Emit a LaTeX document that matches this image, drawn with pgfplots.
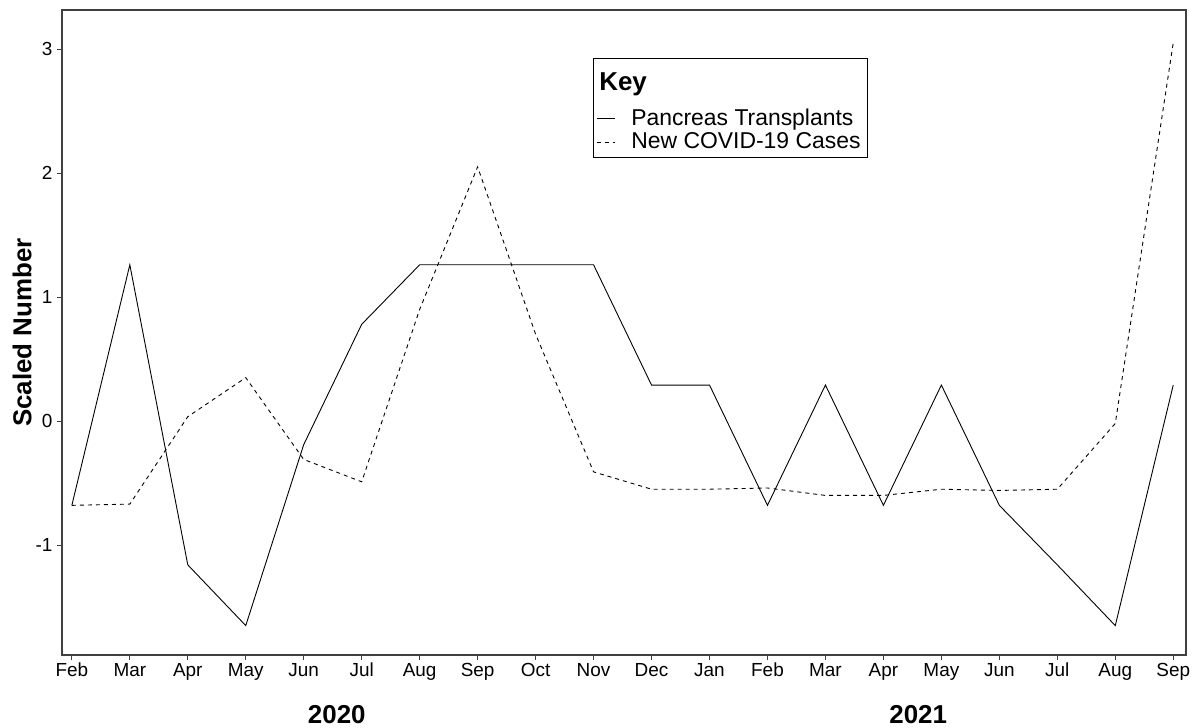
\documentclass[border=0pt]{standalone}
\usepackage{fontspec}
\setmainfont{Liberation Sans}
\usepackage{pgfplots}
\pgfplotsset{compat=1.18}
\begin{document}
\begin{tikzpicture}
\useasboundingbox (0bp,0bp) rectangle (1192bp,728bp);
\begin{axis}[
  at={(62bp,73bp)}, anchor=south west,
  scale only axis, width=1124bp, height=645bp,
  xmin=-0.17, xmax=19.22, ymin=-1.887, ymax=3.315,
  clip=false,
  xtick={0,...,19},
  xticklabels={Feb,Mar,Apr,May,Jun,Jul,Aug,Sep,Oct,Nov,Dec,Jan,Feb,Mar,Apr,May,Jun,Jul,Aug,Sep},
  ytick={-1,0,1,2,3},
  tick align=outside, xtick pos=bottom, ytick pos=left,
  major tick length=5bp,
  tick style={black!75, line width=0.9bp},
  axis line style={black!75, line width=1.1bp},
  /pgf/number format/assume math mode=true,
  ticklabel style={font=\fontsize{19}{21}\selectfont},
  xticklabel style={text height=14bp, text depth=4bp, anchor=north, yshift=1bp},
  yticklabel style={xshift=-1bp},
  ylabel={Scaled Number},
  every axis y label/.style={at={(rel axis cs:0,0.5)}, xshift=-40bp, rotate=90, anchor=center, font=\fontsize{26}{28}\selectfont\bfseries},
  legend style={at={(rel axis cs:0.4724,0.9256)}, anchor=north west, draw=black, line width=1bp,
    font=\fontsize{23}{23}\selectfont, inner xsep=3bp, inner ysep=2bp, cells={anchor=west, inner ysep=0bp},
    row sep=0bp, column sep=14bp},
  legend image code/.code={\draw[#1, line width=0.9bp] (0bp,0bp) -- (18bp,0bp);},
]
\addlegendimage{empty legend}
\addlegendentry[text height=28.5bp, text depth=13.5bp]{\hspace*{-32bp}\fontsize{26}{30}\selectfont\bfseries Key}
\addplot[black, line width=0.9bp] coordinates {
(0,-0.68) (1,1.26) (2,-1.16) (3,-1.65) (4,-0.19) (5,0.78) (6,1.26) (7,1.26) (8,1.26) (9,1.26)
(10,0.29) (11,0.29) (12,-0.68) (13,0.29) (14,-0.68) (15,0.29) (16,-0.68) (17,-1.16) (18,-1.65) (19,0.29)};
\addlegendentry[text height=17.5bp, text depth=1.5bp]{Pancreas Transplants\hspace*{9bp}}
\addplot[black, line width=0.9bp, dash pattern=on 4bp off 4bp] coordinates {
(0,-0.68) (1,-0.67) (2,0.035) (3,0.35) (4,-0.31) (5,-0.49) (6,0.9) (7,2.05) (8,0.7) (9,-0.41)
(10,-0.55) (11,-0.55) (12,-0.54) (13,-0.60) (14,-0.60) (15,-0.55) (16,-0.56) (17,-0.55) (18,-0.02) (19,3.05)};
\addlegendentry[text height=17.5bp, text depth=5bp]{New COVID-19 Cases}
\node[font=\fontsize{26}{28}\selectfont\bfseries] at (axis cs:4.57,-1.887) [yshift=-60bp] {2020};
\node[font=\fontsize{26}{28}\selectfont\bfseries] at (axis cs:14.6,-1.887) [yshift=-60bp] {2021};
\end{axis}
\end{tikzpicture}
\end{document}
